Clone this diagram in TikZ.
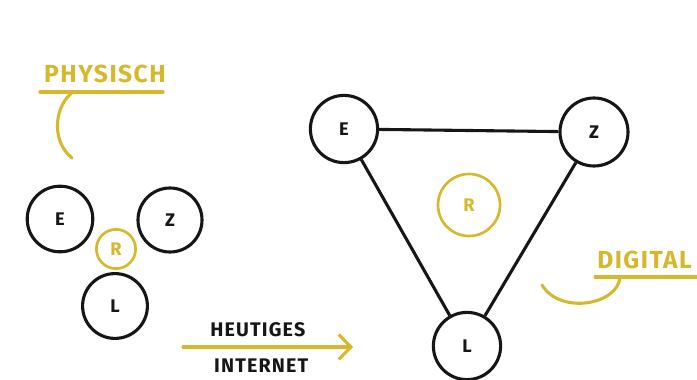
\documentclass[tikz,border=0pt]{standalone}
\usepackage{fontspec}
\setmainfont{Fira Sans}
\newfontfamily\hand{Fira Sans}[LetterSpace=6.0]
\usetikzlibrary{arrows.meta}

\definecolor{mustard}{RGB}{214,184,44}
\definecolor{ink}{RGB}{22,22,22}

\tikzstyle{peer} = [draw, circle, inner sep=0pt, line width=2.2pt,
                    font=\hand\bfseries\fontsize{13}{13}\selectfont]
\tikzstyle{hub}  = [draw, circle, inner sep=0pt, line width=1.9pt,
                    font=\hand\bfseries\fontsize{13}{13}\selectfont]
\tikzstyle{tag}  = [inner sep=0pt, font=\hand\bfseries]

\begin{document}
\begin{tikzpicture}[x=0.025cm, y=-0.025cm]

\def\colR{mustard};
\def\colP{ink};

\useasboundingbox (0,0) rectangle (697,380);

% physisch: the three peers huddle round the router
\node[peer,draw=\colP,text=\colP,
      minimum size=1.64cm]
      (pE) at (60,219) {E};

\node[peer,draw=\colP,text=\colP,
      minimum size=1.60cm]
      (pZ) at (170,220) {Z};

\node[peer,draw=\colP,text=\colP,
      minimum size=1.62cm]
      (pL) at (115,306) {L};

\node[hub,draw=\colR,text=\colR,
      minimum size=0.98cm]
      (pR) at (116,249) {R};

\node[tag,\colR,
      font=\hand\bfseries\fontsize{17.5}{17.5}\selectfont]
      (physisch) at (105,74) {PHYSISCH};

\coordinate (pU1) at (40,92);
\coordinate (pU2) at (163,92);
\coordinate (pA)  at (73,92);
\coordinate (pB)  at (72,158);

\draw[\colR,line width=2.2pt,line cap=round]
     (pU1) -- (pU2);

\draw[\colR,line width=2.2pt,line cap=round]
     (pA) .. controls (55,105) and (50,140) .. (pB);

% digital: peers wired in a triangle, router in the middle
\node[peer,draw=\colP,text=\colP,
      minimum size=1.68cm]
      (dE) at (344,129) {E};

\node[peer,draw=\colP,text=\colP,
      minimum size=1.70cm]
      (dZ) at (594,132) {Z};

\node[peer,draw=\colP,text=\colP,
      minimum size=1.68cm]
      (dL) at (467,346) {L};

\node[hub,draw=\colR,text=\colR,
      minimum size=1.55cm]
      (dR) at (469,205) {R};

\draw[\colP,line width=2.2pt]
     (dE) -- (dZ);

\draw[\colP,line width=2.2pt]
     (dE) -- (dL);

\draw[\colP,line width=2.2pt]
     (dL) -- (dZ);

\node[tag,\colR,anchor=west,
      font=\hand\bfseries\fontsize{17.5}{17.5}\selectfont]
      (digital) at (597,260) {DIGITAL};

\coordinate (dU1) at (595,277);
\coordinate (dU2) at (700,277);
\coordinate (dA)  at (620,277);
\coordinate (dB)  at (542,285);

\draw[\colR,line width=2.2pt,line cap=round]
     (dU1) -- (dU2);

\draw[\colR,line width=2.2pt,line cap=round]
     (dA) .. controls (618,305) and (560,315) .. (dB);

% the arrow between both pictures
\coordinate (aS) at (183,347);
\coordinate (aT) at (353,347);

\draw[-{Straight Barb[length=0.3cm,width=0.62cm]},
      \colR,line width=2.2pt,line cap=round]
     (aS)
      -- node[pos=0.44,above=0.22cm,\colP,tag,
              font=\hand\bfseries\fontsize{14}{14}\selectfont]
         (heute) {HEUTIGES}
         node[pos=0.46,below=0.25cm,\colP,tag,
              font=\hand\bfseries\fontsize{14}{14}\selectfont]
         (netz) {INTERNET}
     (aT);

\end{tikzpicture}
\end{document}
